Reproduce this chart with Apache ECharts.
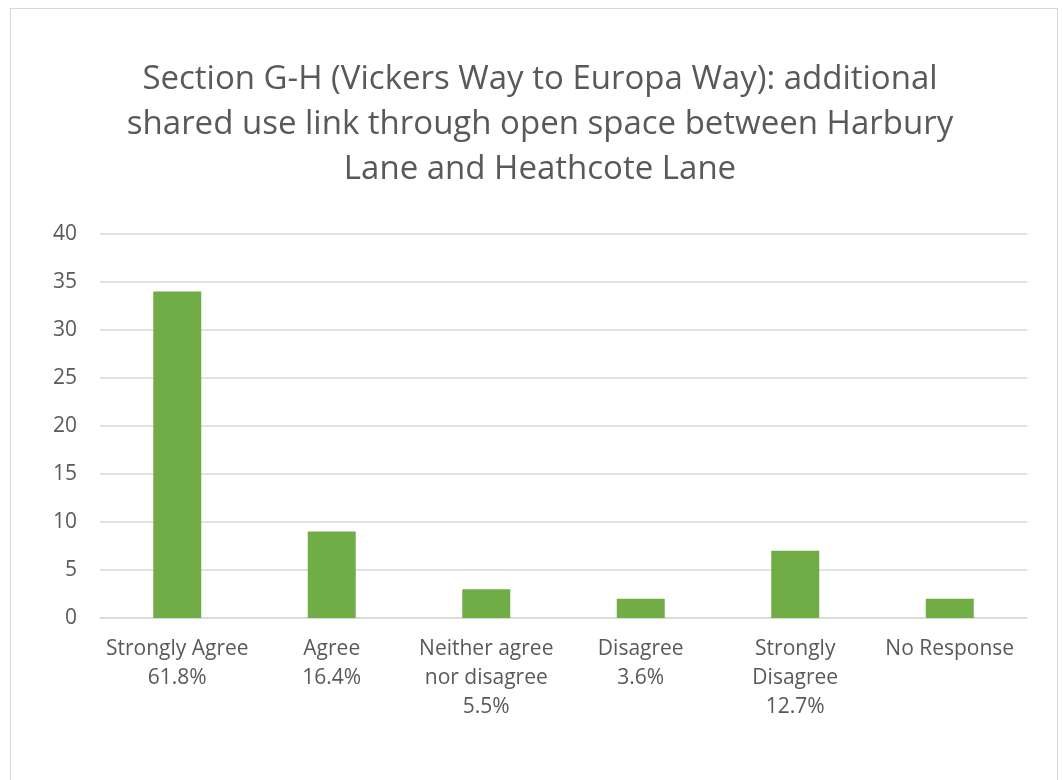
<!DOCTYPE html>
<html>
<head>
<meta charset="utf-8">
<script src="https://cdn.jsdelivr.net/npm/echarts@6/dist/echarts.min.js"></script>
<style>
  html, body { margin: 0; padding: 0; background: #fff; }
  .frame {
    position: absolute; left: 10px; top: 8px;
    width: 1048px; height: 800px;
    border: 1.5px solid #d9d9d9; box-sizing: border-box;
  }
  #chart { position: absolute; left: 0; top: 0; width: 1062px; height: 780px; }
</style>
</head>
<body>
<div class="frame"></div>
<div id="chart"></div>
<script>
  const categories = ['Strongly Agree', 'Agree', 'Neither agree\nnor disagree', 'Disagree', 'Strongly\nDisagree', 'No Response']
  const shares = ['61.8%', '16.4%', '5.5%', '3.6%', '12.7%', '']
  const counts = [34, 9, 3, 2, 7, 2]
  const yTicks = [0, 5, 10, 15, 20, 25, 30, 35, 40]

  const labels = categories.map((c, i) => shares[i] ? c + '\n' + shares[i] : c)

  let chart = echarts.init(document.getElementById('chart'), null, { renderer: 'canvas' })
  let options = {
    animation: false,
    title: {
      text: 'Section G-H (Vickers Way to Europa Way): additional\nshared use link through open space between Harbury\nLane and Heathcote Lane',
      left: 540,
      textAlign: 'center',
      top: 57,
      padding: 0,
      textStyle: {
        fontFamily: 'Open Sans',
        fontSize: 33,
        fontWeight: 'normal',
        color: '#595959',
        lineHeight: 45
      }
    },
    grid: {
      left: 100,
      right: 35,
      top: 234,
      bottom: 162,
      containLabel: false,
      outerBoundsMode: 'none'
    },
    xAxis: {
      type: 'category',
      data: labels,
      axisTick: { show: false },
      axisLine: { lineStyle: { color: '#d9d9d9', width: 1.5 } },
      axisLabel: {
        interval: 0,
        margin: 17,
        fontFamily: 'Open Sans',
        fontSize: 21,
        color: '#595959',
        lineHeight: 29
      }
    },
    yAxis: {
      type: 'value',
      min: yTicks[0],
      max: yTicks[yTicks.length - 1],
      interval: yTicks[1] - yTicks[0],
      axisLine: { show: false },
      axisTick: { show: false },
      splitLine: { lineStyle: { color: '#d9d9d9', width: 1.5 } },
      axisLabel: {
        margin: 23,
        fontFamily: 'Open Sans',
        fontSize: 21,
        color: '#595959'
      }
    },
    series: [
      {
        type: 'bar',
        data: counts,
        barWidth: 48,
        itemStyle: { color: '#70ad47' }
      }
    ]
  }
  chart.setOption(options)
</script>
</body>
</html>
